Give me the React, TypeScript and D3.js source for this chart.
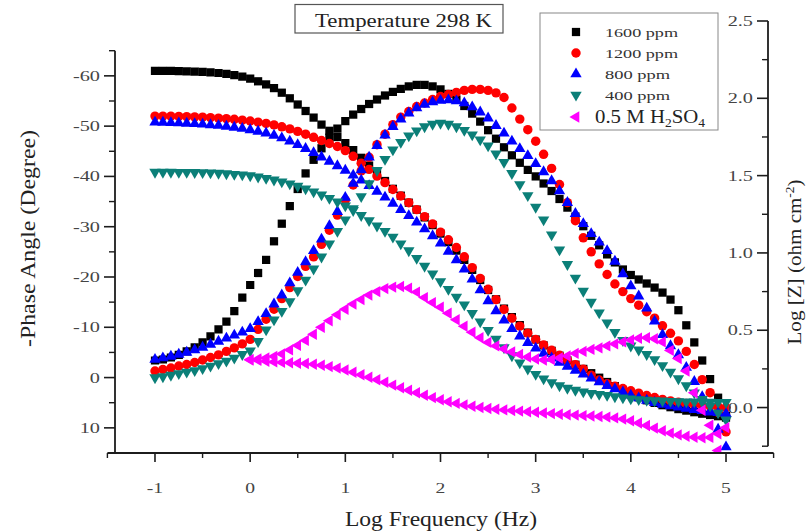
import * as d3 from 'd3';

// log10(f / Hz) measurement grid, 12 points per decade
const LOG_FREQ = [
  -1, -0.917, -0.833, -0.75, -0.667, -0.583, -0.5, -0.417, -0.333, -0.25, -0.167, -0.083,
  0, 0.083, 0.167, 0.25, 0.333, 0.417, 0.5, 0.583, 0.667, 0.75, 0.833, 0.917,
  1, 1.083, 1.167, 1.25, 1.333, 1.417, 1.5, 1.583, 1.667, 1.75, 1.833, 1.917,
  2, 2.083, 2.167, 2.25, 2.333, 2.417, 2.5, 2.583, 2.667, 2.75, 2.833, 2.917,
  3, 3.083, 3.167, 3.25, 3.333, 3.417, 3.5, 3.583, 3.667, 3.75, 3.833, 3.917,
  4, 4.083, 4.167, 4.25, 4.333, 4.417, 4.5, 4.583, 4.667, 4.75, 4.833, 4.917,
  5,
];

// phase angle (degree, as on the left axis)
const PHASE_1600 = [
  -3.4, -3.6, -4.0, -4.5, -5.2, -6.0, -7.0, -8.2, -9.6, -11.1, -13.2, -15.9,
  -18.4, -20.8, -23.4, -27.1, -30.6, -34.1, -37.5, -40.6, -43.3, -45.6, -47.7, -49.5,
  -51.0, -52.3, -53.4, -54.4, -55.3, -56.1, -56.8, -57.4, -57.9, -58.2, -58.2, -57.9,
  -57.3, -56.4, -55.3, -54.0, -52.5, -50.9, -49.2, -47.5, -45.8, -44.2, -42.7, -41.3,
  -40.0, -38.6, -37.1, -35.5, -33.8, -32.0, -30.1, -28.2, -26.3, -24.5, -22.9, -21.5,
  -20.4, -19.5, -18.7, -17.9, -16.9, -15.5, -13.4, -10.4, -7.0, -3.4, 0.3, 4.0,
  7.6,
];
const PHASE_1200 = [
  -1.3, -1.6, -1.9, -2.3, -2.6, -3.0, -3.5, -4.0, -4.5, -5.2, -5.9, -6.7,
  -7.6, -9.6, -11.6, -13.6, -15.7, -17.9, -20.1, -22.1, -24.0, -26.5, -29.3, -32.3,
  -35.3, -38.3, -41.1, -43.8, -46.3, -48.4, -50.3, -51.8, -52.9, -53.9, -54.6, -55.3,
  -55.9, -56.3, -56.7, -57.1, -57.3, -57.3, -57.1, -56.6, -55.7, -53.6, -51.4, -49.3,
  -47.0, -44.4, -41.6, -38.4, -34.8, -31.2, -27.8, -25.0, -22.6, -20.5, -18.6, -17.1,
  -15.7, -14.4, -13.1, -11.8, -10.3, -8.8, -7.3, -5.2, -2.6, 0.4, 3.0, 6.9,
  10.8,
];
const PHASE_800 = [
  -3.6, -3.9, -4.2, -4.6, -5.0, -5.5, -6.0, -6.6, -7.2, -7.8, -8.4, -9.0,
  -9.7, -11.1, -12.7, -14.6, -16.4, -18.8, -20.9, -23.0, -25.2, -27.5, -30.2, -33.0,
  -35.8, -38.6, -41.3, -43.8, -46.1, -48.2, -49.9, -51.4, -52.6, -53.6, -54.3, -54.8,
  -55.1, -55.2, -55.0, -54.6, -53.8, -52.8, -51.6, -50.1, -48.6, -47.0, -45.5, -44.1,
  -42.5, -40.9, -39.1, -37.1, -34.8, -32.6, -30.6, -28.6, -26.9, -25.2, -23.1, -20.6,
  -18.2, -16.2, -13.8, -11.2, -8.5, -6.3, -4.5, -2.0, 0.8, 3.8, 6.9, 10.3,
  13.8,
];
const PHASE_400 = [
  0.0, -0.2, -0.5, -0.8, -1.1, -1.4, -1.8, -2.3, -2.8, -3.3, -3.9, -4.6,
  -5.3, -7.2, -9.5, -11.5, -13.2, -15.1, -17.3, -19.4, -21.6, -24.0, -26.6, -29.1,
  -31.4, -33.6, -36.0, -38.6, -41.2, -43.4, -45.3, -46.8, -48.1, -49.1, -49.9, -50.4,
  -50.6, -50.4, -49.9, -49.2, -48.3, -47.3, -46.1, -44.5, -42.8, -40.6, -38.4, -36.2,
  -33.9, -31.4, -28.4, -25.4, -22.5, -19.8, -17.2, -15.0, -12.9, -10.9, -9.0, -7.4,
  -6.3, -5.5, -4.6, -3.6, -2.4, -1.1, 0.2, 1.6, 3.0, 4.3, 5.6, 7.0,
  8.4,
];
// blank solution only measured from log f = 0
const PHASE_BLANK = [
  -3.5, -3.7, -3.9, -4.2, -4.7, -5.5, -6.4, -7.4, -8.6, -10.0, -11.3, -12.5,
  -13.6, -14.6, -15.5, -16.4, -17.1, -17.7, -18.0, -18.1, -17.8, -17.0, -15.9, -14.9,
  -14.0, -12.8, -11.5, -10.2, -9.0, -7.9, -7.0, -6.3, -5.7, -5.1, -4.6, -4.1,
  -3.7, -3.5, -3.6, -3.9, -4.3, -4.8, -5.2, -5.6, -5.9, -6.3, -6.7, -7.1,
  -7.5, -7.8, -7.9, -7.7, -7.1, -5.4, -3.8, -1.3, 3.0, 6.5, 9.5, 14.5,
  20.0,
];

// log |Z| (right axis)
const Z_1600 = [
  2.178, 2.178, 2.177, 2.176, 2.175, 2.173, 2.171, 2.168, 2.164, 2.158, 2.15, 2.14,
  2.127, 2.11, 2.09, 2.066, 2.036, 2.0, 1.96, 1.918, 1.875, 1.83, 1.79, 1.75,
  1.71, 1.665, 1.615, 1.565, 1.515, 1.465, 1.415, 1.37, 1.325, 1.28, 1.23, 1.18,
  1.125, 1.07, 1.015, 0.955, 0.89, 0.825, 0.76, 0.7, 0.64, 0.585, 0.533, 0.485,
  0.44, 0.402, 0.367, 0.335, 0.305, 0.277, 0.25, 0.222, 0.193, 0.165, 0.138, 0.112,
  0.088, 0.066, 0.047, 0.03, 0.015, 0.002, -0.01, -0.02, -0.03, -0.04, -0.048, -0.056,
  -0.065,
];
const Z_1200 = [
  1.885, 1.885, 1.884, 1.883, 1.882, 1.88, 1.878, 1.875, 1.872, 1.868, 1.864, 1.859,
  1.853, 1.846, 1.838, 1.828, 1.816, 1.802, 1.786, 1.768, 1.748, 1.727, 1.708, 1.688,
  1.662, 1.625, 1.58, 1.54, 1.497, 1.455, 1.41, 1.368, 1.325, 1.28, 1.235, 1.188,
  1.135, 1.085, 1.035, 0.975, 0.905, 0.835, 0.765, 0.698, 0.635, 0.578, 0.527, 0.481,
  0.44, 0.405, 0.37, 0.338, 0.307, 0.277, 0.248, 0.21, 0.178, 0.155, 0.138, 0.123,
  0.108, 0.093, 0.078, 0.065, 0.053, 0.043, 0.034, 0.026, 0.02, 0.014, 0.009, 0.004,
  0.0,
];
const Z_800 = [
  1.845, 1.844, 1.842, 1.84, 1.838, 1.835, 1.832, 1.828, 1.824, 1.818, 1.812, 1.805,
  1.796, 1.786, 1.775, 1.76, 1.743, 1.722, 1.7, 1.675, 1.648, 1.62, 1.592, 1.563,
  1.534, 1.503, 1.47, 1.435, 1.398, 1.36, 1.32, 1.28, 1.24, 1.198, 1.155, 1.11,
  1.062, 1.01, 0.955, 0.895, 0.83, 0.76, 0.69, 0.625, 0.565, 0.51, 0.462, 0.42,
  0.383, 0.35, 0.32, 0.292, 0.266, 0.24, 0.215, 0.19, 0.165, 0.142, 0.12, 0.1,
  0.08, 0.062, 0.046, 0.032, 0.02, 0.01, 0.002, -0.006, -0.013, -0.02, -0.027, -0.034,
  -0.04,
];
const Z_400 = [
  1.523, 1.523, 1.523, 1.522, 1.522, 1.521, 1.52, 1.518, 1.516, 1.513, 1.509, 1.505,
  1.5, 1.492, 1.483, 1.472, 1.46, 1.447, 1.432, 1.415, 1.396, 1.376, 1.354, 1.33,
  1.305, 1.275, 1.243, 1.21, 1.175, 1.14, 1.103, 1.06, 1.015, 0.965, 0.915, 0.865,
  0.815, 0.765, 0.715, 0.665, 0.61, 0.555, 0.5, 0.443, 0.388, 0.336, 0.29, 0.25,
  0.215, 0.186, 0.162, 0.142, 0.126, 0.113, 0.102, 0.093, 0.086, 0.079, 0.071, 0.063,
  0.057, 0.052, 0.048, 0.045, 0.043, 0.041, 0.039, 0.038, 0.037, 0.036, 0.035, 0.034,
  0.033,
];
const Z_BLANK = [
  0.31, 0.305, 0.3, 0.295, 0.292, 0.29, 0.287, 0.285, 0.28, 0.273, 0.265, 0.255,
  0.243, 0.228, 0.212, 0.196, 0.18, 0.163, 0.145, 0.128, 0.112, 0.096, 0.08, 0.064,
  0.05, 0.038, 0.027, 0.017, 0.008, 0.0, -0.006, -0.011, -0.015, -0.019, -0.023, -0.027,
  -0.031, -0.035, -0.039, -0.043, -0.046, -0.049, -0.052, -0.055, -0.058, -0.062, -0.067, -0.075,
  -0.086, -0.1, -0.116, -0.133, -0.15, -0.165, -0.177, -0.186, -0.192, -0.195, -0.193, -0.17,
  -0.13,
];

const LABELS = ['1600 ppm', '1200 ppm', '800 ppm', '400 ppm'];
const X_TICKS = [-1, 0, 1, 2, 3, 4, 5];
const PHASE_TICKS = [-60, -50, -40, -30, -20, -10, 0, 10];
const Z_TICKS = [0, 0.5, 1, 1.5, 2, 2.5];

const SERIF = '"Times New Roman", "Liberation Serif", "DejaVu Serif", serif';
const AXIS = '#1c1c1c';
const TICKTXT = '#444';

// plot frame
const x = d3.scaleLinear().domain([-1.5, 5.5]).range([107.4, 773.6]);
const yPh = d3.scaleLinear().domain([-65, 15]).range([50.7, 453]);
const yZ = d3.scaleLinear().domain([-0.25, 2.5]).range([446.2, 21]);
const LEFT_X = 115;
const RIGHT_X = 768;
const BOTTOM_Y = 453;

type Shape = 'square' | 'circle' | 'up' | 'down' | 'left';

const SERIES: { key: string; color: string; shape: Shape; phase: number[]; z: number[]; from: number }[] = [
  { key: LABELS[0], color: '#000000', shape: 'square', phase: PHASE_1600, z: Z_1600, from: 0 },
  { key: LABELS[1], color: '#ff0000', shape: 'circle', phase: PHASE_1200, z: Z_1200, from: 0 },
  { key: LABELS[2], color: '#0000ff', shape: 'up', phase: PHASE_800, z: Z_800, from: 0 },
  { key: LABELS[3], color: '#0b7f78', shape: 'down', phase: PHASE_400, z: Z_400, from: 0 },
  { key: 'blank', color: '#ff00ff', shape: 'left', phase: PHASE_BLANK, z: Z_BLANK, from: 12 },
];

const ROT: Record<Shape, number> = { square: 0, circle: 0, up: 0, down: 180, left: -90 };

function symbolD(shape: Shape) {
  if (shape === 'square') return d3.symbol(d3.symbolSquare, 68)() as string;
  if (shape === 'circle') return d3.symbol(d3.symbolCircle, 70)() as string;
  return d3.symbol(d3.symbolTriangle, 56)() as string;
}

function Marker({ shape, color, cx, cy }: { shape: Shape; color: string; cx: number; cy: number }) {
  return (
    <path d={symbolD(shape)} fill={color}
      transform={`translate(${cx.toFixed(1)},${cy.toFixed(1)}) rotate(${ROT[shape]})`} />
  );
}

export default function App() {
  const xMinor = d3.range(-1.5, 5.6, 1);
  const phMinor = d3.range(-65, 15, 10);
  const zMinor = d3.range(-0.25, 2.3, 0.5);

  return (
    <svg width={810} height={532} viewBox="0 0 810 532"
      style={{ position: 'absolute', left: 0, top: 0, background: '#fff' }}
      fontFamily={SERIF}>
      <defs>
        <clipPath id="plotClip">
          <rect x={x(-1.5)} y={0} width={x(5.5) - x(-1.5)} height={BOTTOM_Y} />
        </clipPath>
      </defs>

      {/* data */}
      <g clipPath="url(#plotClip)">
        {SERIES.map(s => (
          <g key={s.key}>
            {s.z.map((v, i) => (
              <Marker key={'z' + i} shape={s.shape} color={s.color}
                cx={x(LOG_FREQ[i + s.from])} cy={yZ(v)} />
            ))}
            {s.phase.map((v, i) => (
              <Marker key={'p' + i} shape={s.shape} color={s.color}
                cx={x(LOG_FREQ[i + s.from])} cy={yPh(v)} />
            ))}
          </g>
        ))}
      </g>

      {/* bottom axis */}
      <line x1={x(-1.5)} x2={x(5.5)} y1={BOTTOM_Y} y2={BOTTOM_Y} stroke={AXIS} strokeWidth={1.8} />
      {X_TICKS.map(t => (
        <g key={'xt' + t}>
          <line x1={x(t)} x2={x(t)} y1={BOTTOM_Y} y2={BOTTOM_Y + 9} stroke={AXIS} strokeWidth={1.6} />
          <text transform={`translate(${x(t)},493) scale(1.4,1)`} fontSize={14} textAnchor="middle" fill={TICKTXT}>{t}</text>
        </g>
      ))}
      {xMinor.map(t => (
        <line key={'xm' + t} x1={x(t)} x2={x(t)} y1={BOTTOM_Y} y2={BOTTOM_Y + 5} stroke={AXIS} strokeWidth={1.4} />
      ))}

      {/* left axis */}
      <line x1={LEFT_X} x2={LEFT_X} y1={yPh(-65)} y2={BOTTOM_Y} stroke={AXIS} strokeWidth={1.8} />
      {PHASE_TICKS.map(t => (
        <g key={'pt' + t}>
          <line x1={LEFT_X - 11} x2={LEFT_X} y1={yPh(t)} y2={yPh(t)} stroke={AXIS} strokeWidth={1.6} />
          <text transform={`translate(100,${yPh(t) + 5}) scale(1.45,1)`} fontSize={14} textAnchor="end" fill={TICKTXT}>{t}</text>
        </g>
      ))}
      {phMinor.map(t => (
        <line key={'pm' + t} x1={LEFT_X - 6} x2={LEFT_X} y1={yPh(t)} y2={yPh(t)} stroke={AXIS} strokeWidth={1.4} />
      ))}

      {/* right axis */}
      <line x1={RIGHT_X} x2={RIGHT_X} y1={yZ(2.5)} y2={yZ(-0.25)} stroke={AXIS} strokeWidth={1.8} />
      {Z_TICKS.map(t => (
        <g key={'zt' + t}>
          <line x1={RIGHT_X - 11} x2={RIGHT_X} y1={yZ(t)} y2={yZ(t)} stroke={AXIS} strokeWidth={1.6} />
          <text transform={`translate(753,${yZ(t) + 5}) scale(1.45,1)`} fontSize={14} textAnchor="end" fill={TICKTXT}>{d3.format('.1f')(t)}</text>
        </g>
      ))}
      {zMinor.map(t => (
        <line key={'zm' + t} x1={RIGHT_X - 6} x2={RIGHT_X} y1={yZ(t)} y2={yZ(t)} stroke={AXIS} strokeWidth={1.4} />
      ))}

      {/* axis titles */}
      <text transform="translate(35,238.5) rotate(-90)" fontSize={21} textAnchor="middle" fill="#222"
        textLength={217} lengthAdjust="spacingAndGlyphs">-Phase Angle (Degree)</text>
      <text x={441} y={526} fontSize={22} textAnchor="middle" fill="#222"
        textLength={192} lengthAdjust="spacingAndGlyphs">Log Frequency (Hz)</text>
      <text transform="translate(801,262) rotate(-90)" fontSize={19} textAnchor="middle" fill="#222"
        textLength={165} lengthAdjust="spacingAndGlyphs">
        Log [Z] (ohm cm<tspan dy={-7} fontSize={12}>-2</tspan><tspan dy={7}>)</tspan>
      </text>

      {/* title box */}
      <rect x={295} y={4.5} width={208} height={28.5} fill="#fff" stroke="#555" strokeWidth={1.2} />
      <text x={403.5} y={26.5} fontSize={19} textAnchor="middle" fill="#222"
        textLength={177} lengthAdjust="spacingAndGlyphs">Temperature 298 K</text>

      {/* legend */}
      <rect x={540} y={13} width={178} height={117} fill="#fff" stroke="#888" strokeWidth={1} />
      {SERIES.slice(0, 4).map((s, i) => (
        <g key={'lg' + s.key}>
          <Marker shape={s.shape} color={s.color} cx={576} cy={32 + i * 21} />
          <text x={605} y={36.5 + i * 21} fontSize={12.5} fill="#333"
            textLength={s.key.length > 7 ? 73 : 65} lengthAdjust="spacingAndGlyphs">{s.key}</text>
        </g>
      ))}
      <Marker shape="left" color={SERIES[4].color} cx={576} cy={117} />
      <text x={595} y={122.5} fontSize={18.5} fill="#222" textLength={110} lengthAdjust="spacingAndGlyphs">
        0.5 M H<tspan dy={4} fontSize={12}>2</tspan><tspan dy={-4}>SO</tspan><tspan dy={4} fontSize={12}>4</tspan>
      </text>
    </svg>
  );
}
